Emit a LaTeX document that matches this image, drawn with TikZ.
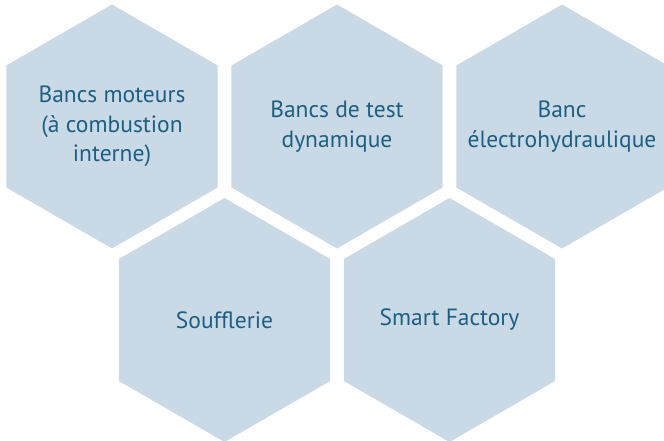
\documentclass[tikz,border=0pt]{standalone}
\usepackage{fontspec}
\setmainfont{PT Sans}
\usetikzlibrary{shapes.geometric}
\definecolor{hexfill}{HTML}{C9D9E6}
\definecolor{hextext}{HTML}{1D5F82}
\tikzset{hexa/.style={regular polygon,regular polygon sides=6,regular polygon rotate=30,
  minimum size=244pt,inner sep=0pt,fill=hexfill},
  hexlabel/.style={text=hextext,align=center,inner sep=0pt,
  font=\fontsize{23.5}{29.5}\selectfont}}
\begin{document}
\begin{tikzpicture}[x=1pt,y=-1pt]
\clip (0,0) rectangle (664,441);
% top row
\node[hexa] (moteurs) at (112,126.5) {};
\node[hexa] (dyna) at (337,126.5) {};
\node[hexa] (electro) at (562,126.5) {};
% bottom row
\node[hexa] (souff) at (224.5,320) {};
\node[hexa] (smart) at (449.5,320) {};
\node[hexlabel] (moteurs-t) at (moteurs) {Bancs moteurs\\(à combustion\\interne)};
\node[hexlabel] (dyna-t) at (dyna) {Bancs de test\\dynamique};
\node[hexlabel] (electro-t) at (electro) {Banc\\électrohydraulique};
\node[hexlabel] (souff-t) at (souff) {Soufflerie};
\node[hexlabel] (smart-t) at (smart) {Smart Factory};
\end{tikzpicture}
\end{document}
